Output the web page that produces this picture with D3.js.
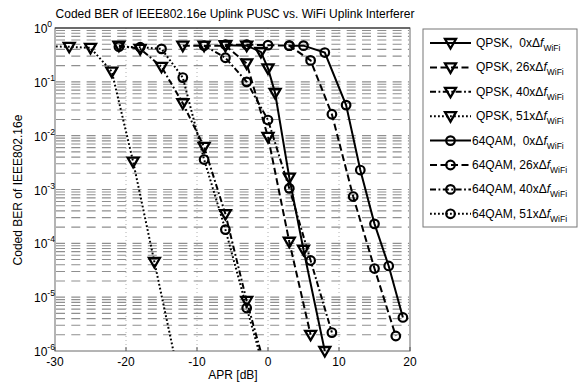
<!DOCTYPE html>
<html>
<head>
<meta charset="utf-8">
<script src="https://cdn.jsdelivr.net/npm/d3@7"></script>
<style>
  body { margin: 0; background: #fff; }
  svg { font-family: "Liberation Sans", Arial, sans-serif; }
</style>
</head>
<body>
<div id="chart"></div>
<script>
// APR [dB] and coded BER
var qpsk0X = [-6, -3, -1, 0, 1, 3, 5, 8];
var qpsk0Ber = [0.48, 0.47, 0.36, 0.178, 0.062, 1.66e-3, 7.6e-5, 1.0e-6];
var qpsk26X = [-12, -9, -6, -3, 0, 3, 6];
var qpsk26Ber = [0.47, 0.47, 0.47, 0.22, 9.5e-3, 1.07e-4, 2.0e-6];
var qpsk40X = [-21, -18, -15, -12, -9, -6, -3, 0];
var qpsk40Ber = [0.47, 0.41, 0.19, 0.04, 6.2e-3, 3.5e-4, 8.5e-6, 3.2e-7];
var qpsk51X = [-31, -28, -25, -22, -19, -16, -13];
var qpsk51Ber = [0.457, 0.447, 0.427, 0.155, 3.3e-3, 4.5e-5, 6.3e-7];
var qam0X = [3, 5, 8, 11, 13, 15, 17, 19];
var qam0Ber = [0.47, 0.47, 0.35, 0.037, 2.3e-3, 2.3e-4, 3.8e-5, 4.2e-6];
var qam26X = [-6, -3, 0, 3, 6, 9, 12, 15, 18];
var qam26Ber = [0.49, 0.49, 0.48, 0.47, 0.25, 0.025, 7.4e-4, 3.4e-5, 1.9e-6];
var qam40X = [-9, -6, -3, 0, 3, 6, 9];
var qam40Ber = [0.47, 0.28, 0.1, 0.0195, 1.05e-3, 4.8e-5, 2.2e-6];
var qam51X = [-21, -18, -15, -12, -9, -6, -3, 0];
var qam51Ber = [0.45, 0.44, 0.41, 0.12, 3.6e-3, 1.8e-4, 6.3e-6, 2.5e-7];

var xTicks = [-30, -20, -10, 0, 10, 20];
var yExps = [0, -1, -2, -3, -4, -5, -6];

var series = [
  { mod: 'QPSK,  ', off: '0x', x: qpsk0X, y: qpsk0Ber, dash: null, mk: 'tri' },
  { mod: 'QPSK, ', off: '26x', x: qpsk26X, y: qpsk26Ber, dash: '7,3.5', mk: 'tri' },
  { mod: 'QPSK, ', off: '40x', x: qpsk40X, y: qpsk40Ber, dash: '6,2.5,1.8,2.5', mk: 'tri' },
  { mod: 'QPSK, ', off: '51x', x: qpsk51X, y: qpsk51Ber, dash: '1.8,2.2', mk: 'tri' },
  { mod: '64QAM,  ', off: '0x', x: qam0X, y: qam0Ber, dash: null, mk: 'circ' },
  { mod: '64QAM, ', off: '26x', x: qam26X, y: qam26Ber, dash: '7,3.5', mk: 'circ' },
  { mod: '64QAM, ', off: '40x', x: qam40X, y: qam40Ber, dash: '6,2.5,1.8,2.5', mk: 'circ' },
  { mod: '64QAM, ', off: '51x', x: qam51X, y: qam51Ber, dash: '1.8,2.2', mk: 'circ' }
];

var width = 584, height = 384;
var pLeft = 55, pRight = 410, pTop = 28, pBottom = 351;

var svg = d3.select('#chart').append('svg')
  .attr('width', width).attr('height', height);

var x = d3.scaleLinear().domain([-30, 20]).range([pLeft, pRight]);
var y = d3.scaleLog().domain([1e-6, 1]).range([pBottom, pTop]);

// grid
var gridVals = [];
for (var d = -6; d < 0; d++) {
  for (var k = 1; k < 10; k++) {
    if (d == -6 && k == 1) continue;
    gridVals.push(k * Math.pow(10, d));
  }
}
svg.append('g').selectAll('line').data(gridVals).enter().append('line')
  .attr('x1', pLeft + 1).attr('x2', pRight - 1)
  .attr('y1', function(v) { return y(v); })
  .attr('y2', function(v) { return y(v); })
  .attr('stroke', '#8f8f8f').attr('stroke-width', 1.1)
  .attr('stroke-dasharray', '9,6.3');

svg.append('g').selectAll('line').data(xTicks.slice(1, -1)).enter().append('line')
  .attr('x1', function(v) { return x(v); })
  .attr('x2', function(v) { return x(v); })
  .attr('y1', pTop).attr('y2', pBottom)
  .attr('stroke', '#b0b0b0').attr('stroke-width', 1)
  .attr('stroke-dasharray', '1,3');

// box
svg.append('rect')
  .attr('x', pLeft).attr('y', pTop)
  .attr('width', pRight - pLeft).attr('height', pBottom - pTop)
  .attr('fill', 'none').attr('stroke', '#6a6a6a').attr('stroke-width', 1);
svg.append('line')
  .attr('x1', pLeft).attr('x2', pRight).attr('y1', pTop).attr('y2', pTop)
  .attr('stroke', '#222').attr('stroke-width', 1);

// ticks
svg.append('g').selectAll('line').data(xTicks).enter().append('line')
  .attr('x1', function(v) { return x(v); }).attr('x2', function(v) { return x(v); })
  .attr('y1', pBottom).attr('y2', pBottom - 4)
  .attr('stroke', '#555');
svg.append('g').selectAll('text').data(xTicks).enter().append('text')
  .attr('x', function(v) { return x(v); })
  .attr('y', 366)
  .attr('text-anchor', 'middle')
  .attr('font-size', 12)
  .text(function(v) { return v; });

var yl = svg.append('g').selectAll('text').data(yExps).enter().append('text')
  .attr('x', 34)
  .attr('y', function(e) { return y(Math.pow(10, e)) + 5; })
  .attr('font-size', 12);
yl.append('tspan').text('10');
yl.append('tspan').attr('dy', -6).attr('font-size', 8.5).text(function(e) { return e; });

// curves
var clip = svg.append('clipPath').attr('id', 'plotclip');
clip.append('rect').attr('x', pLeft).attr('y', pTop)
  .attr('width', pRight - pLeft).attr('height', pBottom - pTop);

var line = d3.line()
  .x(function(p) { return x(p[0]); })
  .y(function(p) { return y(p[1]); });

function marker(g, mk, cx, cy) {
  if (mk == 'tri') {
    g.append('path')
      .attr('d', 'M' + (cx - 5.5) + ',' + (cy - 4) + 'L' + (cx + 5.5) + ',' + (cy - 4) + 'L' + cx + ',' + (cy + 5.5) + 'Z')
      .attr('fill', 'none').attr('stroke', '#000').attr('stroke-width', 2.3)
      .attr('stroke-linejoin', 'miter');
  } else {
    g.append('circle').attr('cx', cx).attr('cy', cy).attr('r', 4.3)
      .attr('fill', 'none').attr('stroke', '#000').attr('stroke-width', 2.2);
  }
}

series.forEach(function(s) {
  var pts = s.x.map(function(v, i) { return [v, s.y[i]]; });
  svg.append('path')
    .datum(pts)
    .attr('clip-path', 'url(#plotclip)')
    .attr('d', line)
    .attr('fill', 'none')
    .attr('stroke', '#000')
    .attr('stroke-width', 2)
    .attr('stroke-dasharray', s.dash);
  var g = svg.append('g');
  pts.forEach(function(p) {
    if (p[0] < -30 || p[1] < 0.95e-6) return;
    marker(g, s.mk, x(p[0]), y(p[1]));
  });
});

// title and labels
svg.append('text').attr('x', 235).attr('y', 18)
  .attr('text-anchor', 'middle').attr('font-size', 12)
  .text('Coded BER of IEEE802.16e Uplink PUSC vs. WiFi Uplink Interferer');
svg.append('text').attr('x', 233).attr('y', 379)
  .attr('text-anchor', 'middle').attr('font-size', 12)
  .text('APR [dB]');
svg.append('text')
  .attr('transform', 'translate(22,190) rotate(-90)')
  .attr('text-anchor', 'middle').attr('font-size', 12)
  .text('Coded BER of IEEE802.16e');

// legend
var lg = svg.append('g');
lg.append('rect').attr('x', 423).attr('y', 29).attr('width', 154).attr('height', 198)
  .attr('fill', '#fff').attr('stroke', '#777').attr('stroke-width', 1);
series.forEach(function(s, i) {
  var ly = 43 + i * 24.4;
  lg.append('line').attr('x1', 430).attr('x2', 471).attr('y1', ly).attr('y2', ly)
    .attr('stroke', '#000').attr('stroke-width', 2)
    .attr('stroke-dasharray', s.dash);
  marker(lg, s.mk, 450.5, ly);
  var t = lg.append('text').attr('x', s.mk == 'tri' ? 476 : 472).attr('y', ly + 4)
    .attr('font-size', 12).attr('xml:space', 'preserve');
  t.append('tspan').text(s.mod + s.off + '\u0394');
  t.append('tspan').attr('font-style', 'italic').text('f');
  t.append('tspan').attr('dy', 4).attr('font-size', 8.5).text('WiFi');
});
</script>
</body>
</html>
